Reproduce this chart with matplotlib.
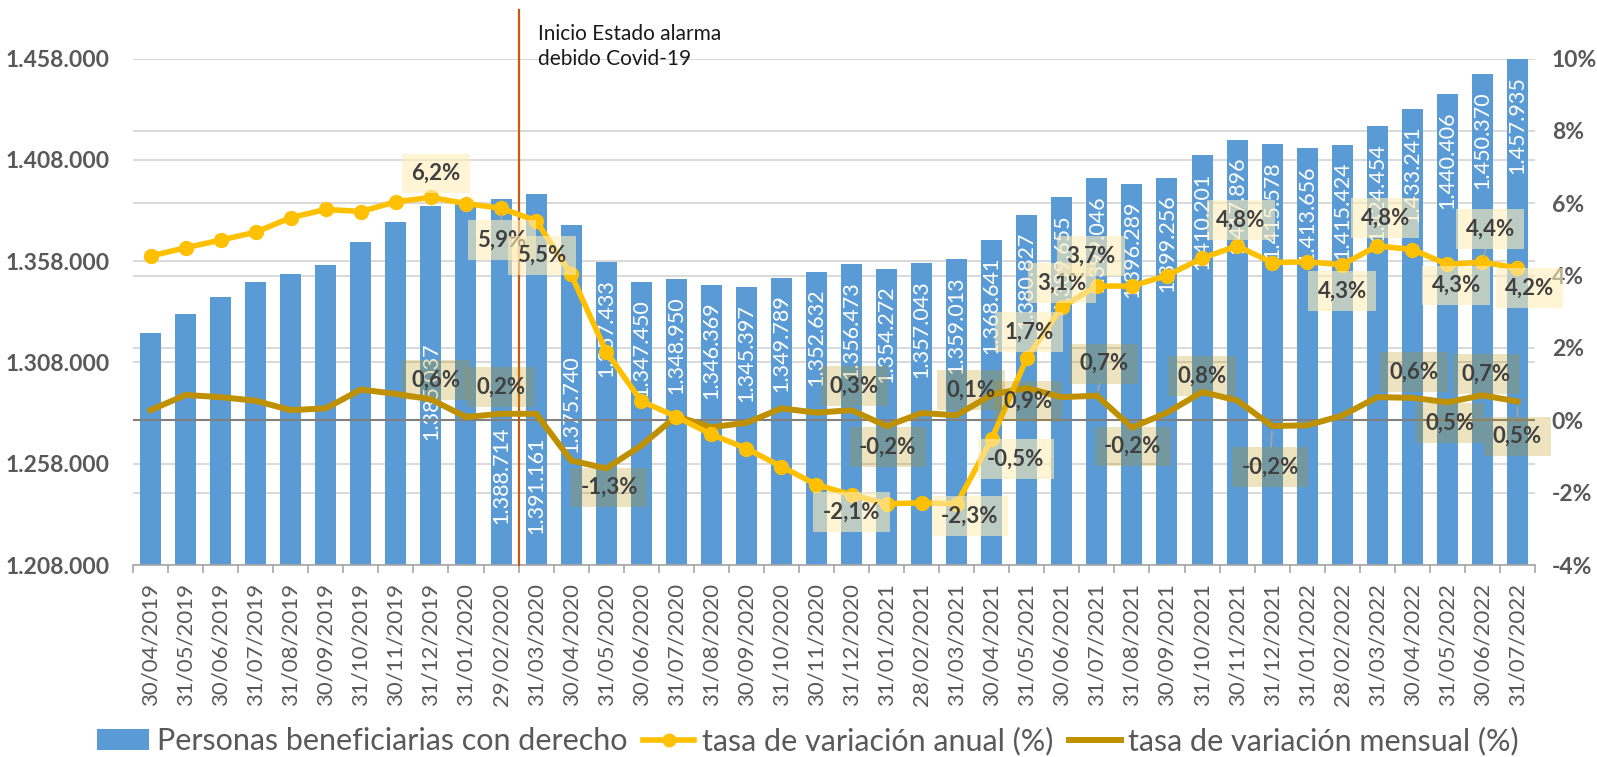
import numpy as np
import matplotlib
matplotlib.use('Agg')
import matplotlib.pyplot as plt
from matplotlib.ticker import FuncFormatter, FixedLocator
from matplotlib.patches import Patch
from matplotlib.lines import Line2D
import matplotlib.transforms as mtransforms

plt.rcParams['font.family'] = ['Lato', 'DejaVu Sans']

# ---------------- data ----------------
fechas = ["30/04/2019", "31/05/2019", "30/06/2019", "31/07/2019", "31/08/2019", "30/09/2019",
          "31/10/2019", "30/11/2019", "31/12/2019", "31/01/2020", "29/02/2020", "31/03/2020",
          "30/04/2020", "31/05/2020", "30/06/2020", "31/07/2020", "31/08/2020", "30/09/2020",
          "31/10/2020", "30/11/2020", "31/12/2020", "31/01/2021", "28/02/2021", "31/03/2021",
          "30/04/2021", "31/05/2021", "30/06/2021", "31/07/2021", "31/08/2021", "30/09/2021",
          "31/10/2021", "30/11/2021", "31/12/2021", "31/01/2022", "28/02/2022", "31/03/2022",
          "30/04/2022", "31/05/2022", "30/06/2022", "31/07/2022"]

beneficiarias = [1322450, 1332100, 1340350, 1347600, 1351650, 1355950, 1367300, 1377100,
                 1385037, 1386300, 1388714, 1391161, 1375740, 1357433, 1347450, 1348950,
                 1346369, 1345397, 1349789, 1352632, 1356473, 1354272, 1357043, 1359013,
                 1368641, 1380827, 1389655, 1399046, 1396289, 1399256, 1410201, 1417896,
                 1415578, 1413656, 1415424, 1424454, 1433241, 1440406, 1450370, 1457935]

tasa_anual = [4.54, 4.77, 4.98, 5.20, 5.60, 5.83, 5.77, 6.04, 6.16, 5.99, 5.86, 5.52,
              4.03, 1.90, 0.53, 0.10, -0.39, -0.78, -1.28, -1.78, -2.06, -2.31, -2.28, -2.31,
              -0.52, 1.72, 3.13, 3.71, 3.71, 4.00, 4.48, 4.82, 4.36, 4.38, 4.30, 4.82,
              4.72, 4.31, 4.37, 4.21]

tasa_mensual = [0.28, 0.70, 0.64, 0.54, 0.28, 0.33, 0.85, 0.73, 0.58, 0.09, 0.18, 0.18,
                -1.11, -1.33, -0.70, 0.11, -0.19, -0.07, 0.33, 0.21, 0.28, -0.16, 0.20, 0.14,
                0.71, 0.89, 0.64, 0.68, -0.20, 0.21, 0.78, 0.55, -0.16, -0.14, 0.13, 0.64,
                0.62, 0.50, 0.69, 0.52]

eje_izq_ticks = [1208000, 1258000, 1308000, 1358000, 1408000, 1458000]
eje_der_ticks = [-4, -2, 0, 2, 4, 6, 8, 10]

serie_labels = ["Personas beneficiarias con derecho", "tasa de variación anual (%)",
                "tasa de variación mensual (%)"]
nota = "Inicio Estado alarma\ndebido Covid-19"

# ---------------- label placement (pixel offsets) ----------------
anual_lab = {8: (5, 24), 10: (1, -32), 11: (6, -35), 20: (0, -17), 23: (13, -12),
             24: (24, -20), 25: (2, 26), 26: (0, 24), 27: (-6, 30), 31: (4, 26),
             34: (0, -26), 35: (8, 28), 37: (9, -21), 38: (8, 33), 39: (12, -20)}
anual_leader = {10, 38}
mensual_lab = {8: (5, 19), 10: (0, 27), 13: (3, -19), 20: (3, 24), 21: (1, -21),
               23: (14, 25), 25: (1, -13), 27: (7, 32), 28: (1, -19), 30: (0, 16),
               32: (-2, -41), 36: (2, 26), 37: (3, -21), 38: (4, 21), 39: (0, -35)}
mensual_leader = {27, 32, 39}
bar_hidden = {0, 1, 2, 3, 4, 5, 6, 7, 9}
bar_off_special = {8: 136, 10: 228, 11: 243, 12: 130}

C_BAR = '#5B9BD5'
C_AN = '#FFC000'
C_ME = '#BF9000'
C_TXT = '#595959'
C_GRID = '#D9D9D9'

fig = plt.figure(figsize=(15.97, 7.57), dpi=100)
fig.subplots_adjust(left=133/1597, right=1535/1597, bottom=1-565/757, top=1-58.5/757)
ax1 = fig.add_subplot(111)
ax2 = ax1.twinx()

x = np.arange(len(fechas))

# bars
ax1.bar(x, beneficiarias, width=0.6, color=C_BAR, zorder=2)
ax1.set_ylim(eje_izq_ticks[0], eje_izq_ticks[-1])
ax1.set_xlim(-0.5, len(fechas) - 0.5)
ax1.yaxis.set_major_locator(FixedLocator(eje_izq_ticks))
ax1.yaxis.set_major_formatter(FuncFormatter(lambda v, p: f"{v:,.0f}".replace(',', '.')))
ax1.set_axisbelow(True)
ax1.grid(axis='y', color=C_GRID, lw=1.4, zorder=0)

# right axis
ax2.set_ylim(eje_der_ticks[0], eje_der_ticks[-1])
ax2.yaxis.set_major_locator(FixedLocator(eje_der_ticks))
ax2.yaxis.set_major_formatter(FuncFormatter(lambda v, p: f"{v:.0f}%"))

# right axis grid drawn behind the bars
bt = mtransforms.blended_transform_factory(ax1.transAxes, ax2.transData)
for t in eje_der_ticks[1:]:
    if t == 0:
        continue
    ax1.add_line(Line2D([0, 1], [t, t], transform=bt, color=C_GRID, lw=1.4, zorder=0.5))

# zero line of secondary axis
ax2.axhline(0, color='#808080', lw=1.5, zorder=1)

# vertical line Covid
vt = mtransforms.blended_transform_factory(ax2.transData, ax2.transAxes)
ax2.plot([10.5, 10.5], [0, 1.0957], transform=vt, color='#C55A11', lw=1.6,
         clip_on=False, zorder=1.5)
ax2.text(11.05, 1.068, nota, transform=vt, ha='left', va='top', fontsize=15,
         color='#1A1A1A', linespacing=1.3)

# lines
ax2.plot(x, tasa_mensual, color=C_ME, lw=4.3, zorder=3, solid_joinstyle='round')
ax2.plot(x, tasa_anual, color=C_AN, lw=4, marker='o', ms=10, zorder=4,
         solid_joinstyle='round')

# spines and ticks
for ax in (ax1, ax2):
    for s in ('top', 'left', 'right', 'bottom'):
        ax.spines[s].set_visible(False)
ax1.spines['bottom'].set_visible(True)
ax1.spines['bottom'].set_color('#A6A6A6')
ax1.spines['bottom'].set_linewidth(1.2)

ax1.set_xticks(x)
ax1.set_xticklabels(fechas, rotation=90, fontsize=16, color=C_TXT)
ax1.set_xticks(np.arange(-0.5, len(fechas), 1), minor=True)
ax1.tick_params(axis='x', which='major', length=0, pad=13)
ax1.tick_params(axis='x', which='minor', length=6, color='#A6A6A6', width=1.2)
ax1.tick_params(axis='y', length=0, pad=17)
ax2.tick_params(axis='y', length=0, pad=12)
for lab in ax1.get_yticklabels():
    lab.set_fontweight('bold'); lab.set_fontsize(16.5); lab.set_color(C_TXT)
for lab in ax2.get_yticklabels():
    lab.set_fontweight('bold'); lab.set_fontsize(16.5); lab.set_color(C_TXT)

# bar labels
for i, v in enumerate(beneficiarias):
    if i in bar_hidden:
        continue
    off = bar_off_special.get(i, 17)
    ax1.annotate(f"{v:,}".replace(',', '.'), xy=(i, v), xytext=(0, -off),
                 textcoords='offset pixels', rotation=90, ha='center', va='top',
                 fontsize=15.5, color='white', zorder=3)


def pct(v):
    return f"{v:.1f}".replace('.', ',') + '%'


def put_labels(vals, spec, leaders, fc, alpha):
    for i, (dx, dy) in spec.items():
        kw = {}
        if i in leaders:
            kw['arrowprops'] = dict(arrowstyle='-', color='#A6A6A6', lw=1.2,
                                    shrinkA=0, shrinkB=4)
        ax2.annotate(pct(vals[i]), xy=(i, vals[i]), xytext=(dx, dy),
                     textcoords='offset pixels', ha='center', va='center',
                     fontsize=16, fontweight='bold', color='#404040', zorder=6,
                     bbox=dict(boxstyle='square,pad=0.42', fc=fc, ec='none', alpha=alpha),
                     **kw)


put_labels(tasa_mensual, mensual_lab, mensual_leader, C_ME, 0.25)
put_labels(tasa_anual, anual_lab, anual_leader, '#FFEDB8', 0.6)

# legend
handles = [Patch(fc=C_BAR, ec='none'),
           Line2D([], [], color=C_AN, lw=4, marker='o', ms=9),
           Line2D([], [], color=C_ME, lw=4.3)]
fig.legend(handles, serie_labels, loc='center', bbox_to_anchor=(0.506, 0.021), ncol=3,
           frameon=False, fontsize=22, handlelength=1.7, handletextpad=0.25,
           columnspacing=0.5, labelcolor=C_TXT)

fig.savefig('out.png', dpi=100)
